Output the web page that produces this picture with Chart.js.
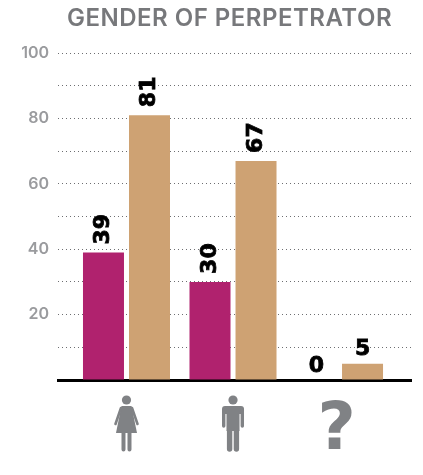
<!DOCTYPE html>
<html>
<head>
<meta charset="utf-8">
<title>Gender of perpetrator</title>
<script src="https://cdn.jsdelivr.net/npm/chart.js@4"></script>
<style>
  html, body { margin: 0; padding: 0; background: #fff; }
  #wrap { width: 423px; height: 475px; }
</style>
</head>
<body>
<div id="wrap"><canvas id="chart" width="423" height="475"></canvas></div>
<script>
const titleText = 'GENDER OF PERPETRATOR';
const categories = ['Female', 'Male', 'Unknown'];
const positions = [1, 2, 3];
const series1 = [39, 30, 0];
const series2 = [81, 67, 5];
const labelledTicks = [20, 40, 60, 80, 100];

const GREY_ICON = '#808285';

function points(values) {
  return values.map((v, i) => ({ x: positions[i], y: v }));
}

// title sits a bit left of the plot centre, so it is placed by hand
const chartTitle = {
  id: 'chartTitle',
  afterDraw(chart) {
    const ctx = chart.ctx;
    ctx.save();
    ctx.fillStyle = '#77787b';
    ctx.font = '600 24px Inter';
    ctx.letterSpacing = '0.5px';
    ctx.textAlign = 'center';
    ctx.textBaseline = 'alphabetic';
    ctx.fillText(titleText, 229.5, 26);
    ctx.restore();
  }
};

// value labels above the bars, big ones are turned on their side
const valueLabels = {
  id: 'valueLabels',
  afterDatasetsDraw(chart) {
    const ctx = chart.ctx;
    chart.data.datasets.forEach((ds, d) => {
      chart.getDatasetMeta(d).data.forEach((bar, i) => {
        const v = ds.data[i].y;
        ctx.save();
        ctx.fillStyle = '#000';
        ctx.strokeStyle = '#000';
        ctx.lineWidth = 0.8;
        ctx.font = 'bold 22px "DejaVu Sans"';
        ctx.textBaseline = 'middle';
        if (v >= 10) {
          ctx.translate(bar.x, bar.y - 8);
          ctx.rotate(-Math.PI / 2);
          ctx.textAlign = 'left';
        } else {
          ctx.translate(bar.x, bar.y - 14);
          ctx.textAlign = 'center';
        }
        ctx.fillText(String(v), 0, 0);
        ctx.strokeText(String(v), 0, 0);
        ctx.restore();
      });
    });
  }
};

function drawWoman(ctx, cx) {
  ctx.save();
  ctx.translate(cx, 0);
  ctx.fillStyle = GREY_ICON;
  ctx.beginPath();
  ctx.arc(0, 400, 4.6, 0, Math.PI * 2);
  ctx.fill();
  // dress
  ctx.beginPath();
  ctx.moveTo(-5, 406);
  ctx.lineTo(5, 406);
  ctx.lineTo(10.5, 433);
  ctx.lineTo(-10.5, 433);
  ctx.closePath();
  ctx.fill();
  // arms
  ctx.strokeStyle = GREY_ICON;
  ctx.lineWidth = 2.6;
  ctx.lineCap = 'round';
  ctx.beginPath();
  ctx.moveTo(-5.5, 408);
  ctx.lineTo(-11, 424);
  ctx.moveTo(5.5, 408);
  ctx.lineTo(11, 424);
  ctx.stroke();
  // legs
  ctx.lineWidth = 4;
  ctx.beginPath();
  ctx.moveTo(-3, 433);
  ctx.lineTo(-3, 449.5);
  ctx.moveTo(3, 433);
  ctx.lineTo(3, 449.5);
  ctx.stroke();
  ctx.restore();
}

function drawMan(ctx, cx) {
  ctx.save();
  ctx.translate(cx, 0);
  ctx.fillStyle = GREY_ICON;
  ctx.beginPath();
  ctx.arc(0, 400, 4.6, 0, Math.PI * 2);
  ctx.fill();
  // torso
  ctx.beginPath();
  ctx.roundRect(-11, 406, 22, 8, 3);
  ctx.fill();
  ctx.fillRect(-6.5, 410, 13, 21);
  // arms
  ctx.strokeStyle = GREY_ICON;
  ctx.lineWidth = 3.4;
  ctx.lineCap = 'round';
  ctx.beginPath();
  ctx.moveTo(-9.3, 410);
  ctx.lineTo(-9.3, 426);
  ctx.moveTo(9.3, 410);
  ctx.lineTo(9.3, 426);
  ctx.stroke();
  // legs
  ctx.lineWidth = 5.4;
  ctx.beginPath();
  ctx.moveTo(-3.4, 430);
  ctx.lineTo(-3.4, 449);
  ctx.moveTo(3.4, 430);
  ctx.lineTo(3.4, 449);
  ctx.stroke();
  ctx.restore();
}

// pictograms stand in for the category labels
const categoryIcons = {
  id: 'categoryIcons',
  afterDraw(chart) {
    const ctx = chart.ctx;
    const xs = chart.scales.x;
    categories.forEach((name, i) => {
      const groupX = xs.getPixelForValue(positions[i]);
      if (name === 'Female') drawWoman(ctx, groupX);
      if (name === 'Male') drawMan(ctx, groupX);
      if (name === 'Unknown') {
        ctx.save();
        ctx.fillStyle = GREY_ICON;
        ctx.font = 'bold 66px "DejaVu Sans"';
        ctx.textAlign = 'center';
        ctx.textBaseline = 'alphabetic';
        ctx.fillText('?', groupX - 3, 449);
        ctx.restore();
      }
    });
  }
};

new Chart(document.getElementById('chart').getContext('2d'), {
  type: 'bar',
  data: {
    datasets: [
      { label: 'Series 1', data: points(series1), backgroundColor: '#b0226e' },
      { label: 'Series 2', data: points(series2), backgroundColor: '#cea273' }
    ]
  },
  options: {
    responsive: false,
    animation: false,
    devicePixelRatio: 1,
    categoryPercentage: 0.864,
    barPercentage: 0.891,
    layout: { padding: { left: 0, right: 12, top: 53, bottom: 0 } },
    plugins: {
      legend: { display: false },
      tooltip: { enabled: false },
      title: { display: false }
    },
    scales: {
      x: {
        type: 'linear',
        offset: false,
        min: 0.357,
        max: 3.671,
        afterFit(scale) { scale.height = 95; },
        grid: { display: false },
        border: { display: true, color: '#000', width: 3 },
        ticks: { display: false, stepSize: 1, includeBounds: false }
      },
      y: {
        min: 0,
        max: 100,
        afterFit(scale) { scale.width = 58; },
        border: { display: false, dash: [1, 3] },
        grid: {
          color: '#6d6e71',
          lineWidth: 1,
          drawTicks: false
        },
        ticks: {
          stepSize: 10,
          padding: 9,
          color: '#9a9b9e',
          font: { family: 'Inter', size: 16, weight: '600' },
          callback: v => labelledTicks.includes(v) ? String(v) : ''
        }
      }
    }
  },
  plugins: [chartTitle, valueLabels, categoryIcons]
});
</script>
</body>
</html>
